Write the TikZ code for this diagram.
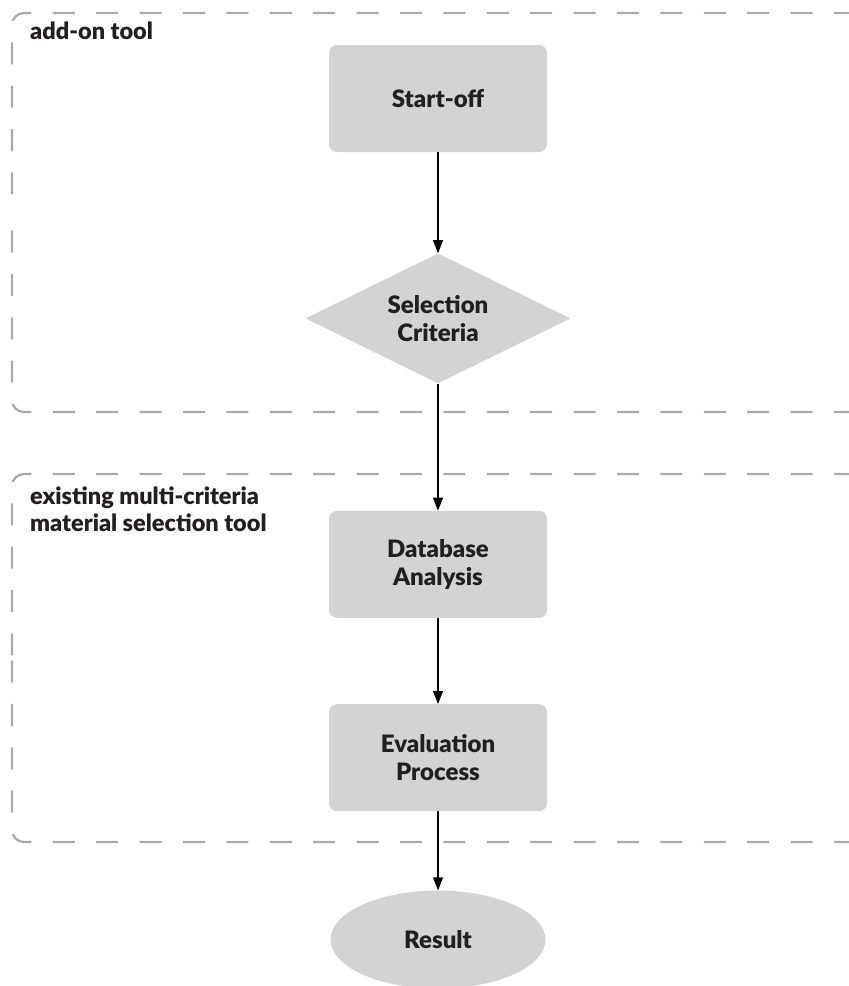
\documentclass[tikz,border=0pt]{standalone}
\usepackage{fontspec}
\setmainfont{Lato}[BoldFont={Lato Black}]
\usepackage{xcolor}
\usepackage{tikz}
\usetikzlibrary{arrows.meta,positioning,shapes.geometric}
\definecolor{nodefill}{HTML}{D1D3D4}
\definecolor{groupline}{HTML}{A7A9AC}
\definecolor{txt}{HTML}{231F20}
\tikzset{
  stepbox/.style  = {rounded corners=8pt, fill=nodefill, align=center, text=txt,
                     minimum width=218pt, minimum height=107pt, inner sep=0pt,
                     font=\fontsize{24}{28}\selectfont\bfseries},
  decision/.style = {diamond, aspect=2.04, fill=nodefill, align=center, text=txt,
                     minimum width=265pt, minimum height=130pt, inner sep=0pt,
                     font=\fontsize{24}{28}\selectfont\bfseries},
  terminal/.style = {ellipse, fill=nodefill, text=txt, minimum width=215pt,
                     minimum height=98pt, inner sep=0pt,
                     font=\fontsize{24}{28}\selectfont\bfseries},
  group/.style    = {draw=groupline, line width=2.2pt, rounded corners=12pt,
                     dash pattern=on 22pt off 21.4pt},
  grouplbl/.style = {anchor=north west, inner sep=0pt, align=left, text=txt,
                     font=\fontsize{23.5}{27}\selectfont\bfseries},
  ar/.style       = {-{Triangle[length=13pt,width=10pt]}, line width=1.2pt},
}
\begin{document}
\begin{tikzpicture}[x=1pt, y=1pt, node distance=101pt]
  \useasboundingbox (0,0) rectangle (849,-986);
  % dashed groups, open to the right; each drawn in two halves
  \draw[group] (899.4,-13) -- (12,-13) -- (12,-212.5);
  \draw[group] (899.4,-412) -- (12,-412) -- (12,-212.5);
  \draw[group] (899.4,-474) -- (12,-474) -- (12,-658);
  \draw[group] (899.4,-842) -- (12,-842) -- (12,-658);
  \node[grouplbl] (addon) at (30,-22) {add-on tool};
  \node[grouplbl] (existing) at (30,-487) {existing multi-criteria\\material selection tool};

  \node[stepbox] (start) at (438,-98.5) {Start-off};
  \node[decision, below=of start] (crit) {Selection\\Criteria};
  \node[stepbox, below=127pt of crit] (db) {Database\\Analysis};
  \node[stepbox, below=86pt of db] (eval) {Evaluation\\Process};
  \node[terminal, below=79pt of eval] (res) {Result};

  \draw[ar] (start) -- (crit);
  \draw[ar] (crit) -- (db);
  \draw[ar] (db) -- (eval);
  \draw[ar] (eval) -- (res);
\end{tikzpicture}
\end{document}
